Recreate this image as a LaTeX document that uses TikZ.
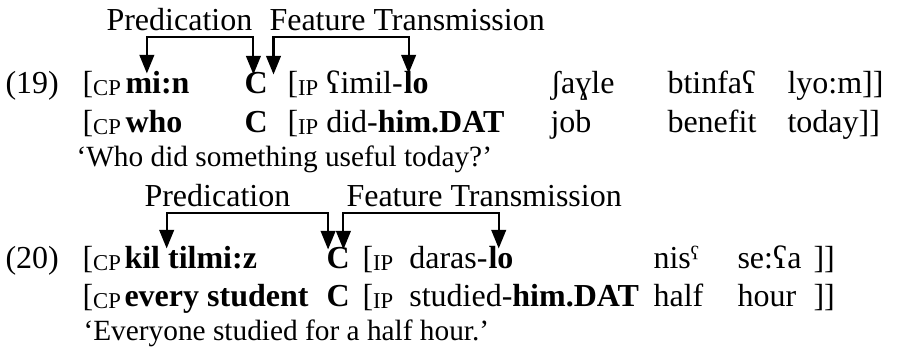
\documentclass[tikz,border=0pt,12pt]{standalone}
\usepackage{fontspec}
\setmainfont{Liberation Serif}
\usepackage{tikz}
\usetikzlibrary{arrows.meta}
\newcommand{\phr}[1]{\raisebox{-1pt}{\fontsize{8.5}{10}\selectfont #1}}

\begin{document}
\begin{tikzpicture}[x=0.375pt,y=-0.375pt,>={Triangle[length=7pt,width=5.5pt]},
  word/.style={anchor=base west,inner sep=0pt},
  gloss/.style={word,font=\fontsize{11}{13}\selectfont},
  link/.style={<->,thick}]
  \useasboundingbox (0,0) rectangle (914,352);
  % example (19)
  \node[word] (pred19) at (106,30) {Predication};
  \node[word] (feat19) at (269,30) {Feature Transmission};
  \node[word] (num19) at (5,93) {(19)};
  \node[word] (cp19) at (82,93) {[\phr{CP}};
  \node[word] (min) at (125,93) {\textbf{mi:n}};
  \node[word] (c19) at (244,93) {\textbf{C}};
  \node[word] (ip19) at (287,93) {[\phr{IP} ʕimil-};
  \node[word] (lo19) at (ip19.base east) {\textbf{lo}};
  \node[word] (shayle) at (550,93) {ʃaɣle};
  \node[word] (btinfa) at (667,93) {btinfaʕ};
  \node[word] (lyom) at (787,93) {lyo:m]]};
  \node[word] (cp19g) at (82,132) {[\phr{CP}};
  \node[word] (who) at (125,132) {\textbf{who}};
  \node[word] (c19g) at (244,132) {\textbf{C}};
  \node[word] (ip19g) at (287,132) {[\phr{IP} did-\textbf{him.DAT}};
  \node[word] (job) at (550,132) {job};
  \node[word] (benefit) at (667,132) {benefit};
  \node[word] (today) at (787,132) {today]]};
  \node[gloss] (gloss19) at (76,166) {‘Who did something useful today?’};
  \draw[link] ([xshift=-4pt,yshift=-1.2pt]min.north) |- ([yshift=-2.6pt]pred19.base) -| ([xshift=-1pt,yshift=-1.2pt]c19.north);
  \draw[link] ([xshift=2pt,yshift=-1.2pt]c19.north east) |- ([xshift=5pt,yshift=-2.6pt]feat19.base west) -| ([xshift=2pt,yshift=-1.2pt]lo19.north west);
  % example (20)
  \node[word] (pred20) at (144,206) {Predication};
  \node[word] (feat20) at (346,206) {Feature Transmission};
  \node[word] (num20) at (5,268) {(20)};
  \node[word] (cp20) at (82,268) {[\phr{CP}};
  \node[word] (kil) at (124,268) {\textbf{kil tilmi:z}};
  \node[word] (c20) at (326,268) {\textbf{C}};
  \node[word] (ip20) at (362,268) {[\phr{IP}\ \ daras-};
  \node[word] (lo20) at (ip20.base east) {\textbf{lo}};
  \node[word] (nis) at (653,268) {nisˤ};
  \node[word] (sea) at (737,268) {se:ʕa};
  \node[word] (close20) at (813,268) {]]};
  \node[word] (cp20g) at (82,306) {[\phr{CP}};
  \node[word] (every) at (124,306) {\textbf{every student}};
  \node[word] (c20g) at (326,306) {\textbf{C}};
  \node[word] (ip20g) at (362,306) {[\phr{IP}\ \ studied-\textbf{him.DAT}};
  \node[word] (half) at (653,306) {half};
  \node[word] (hour) at (737,306) {hour};
  \node[word] (close20g) at (813,306) {]]};
  \node[gloss] (gloss20) at (83,340) {‘Everyone studied for a half hour.’};
  \draw[link] ([xshift=16pt,yshift=-1.2pt]kil.north west) |- ([yshift=-2.6pt]pred20.base) -| ([xshift=-3.75pt,yshift=-1.2pt]c20.north);
  \draw[link] ([xshift=2pt,yshift=-1.2pt]c20.north) |- ([xshift=5pt,yshift=-2.6pt]feat20.base west) -| ([xshift=4pt,yshift=-1.2pt]lo20.north west);
\end{tikzpicture}
\end{document}
